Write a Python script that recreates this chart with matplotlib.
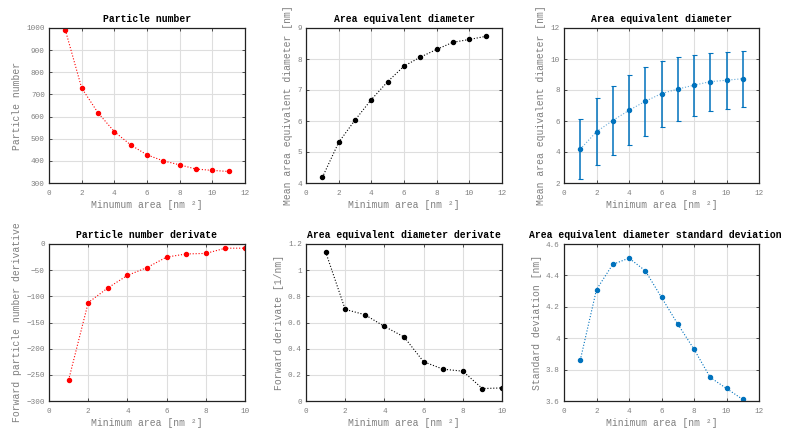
import matplotlib
matplotlib.use("Agg")
import matplotlib.pyplot as plt
import numpy as np

plt.rcParams['font.family'] = ['Liberation Mono', 'DejaVu Sans Mono']

# ---- data ----
min_area = [1, 2, 3, 4, 5, 6, 7, 8, 9, 10, 11]
particle_number = [991, 729, 617, 532, 472, 427, 400, 382, 363, 357, 352]
mean_diameter = [4.18, 5.31, 6.03, 6.69, 7.27, 7.77, 8.06, 8.31, 8.54, 8.63, 8.73]
std_diameter = [3.86, 4.31, 4.47, 4.51, 4.43, 4.26, 4.09, 3.93, 3.75, 3.68, 3.61]
deriv_area = [1, 2, 3, 4, 5, 6, 7, 8, 9, 10]
particle_deriv = [-260, -112, -84, -60, -45, -25, -19, -18, -8, -8]
diameter_deriv = [1.14, 0.70, 0.66, 0.57, 0.49, 0.30, 0.243, 0.228, 0.095, 0.10]

RED = '#ff0000'
BLACK = '#000000'
BLUE = '#0072bd'
GRAY = '#7f7f7f'

fig = plt.figure(figsize=(7.85, 4.30), dpi=100)
W, H = 785, 430

def make_ax(l, r, t, b):
    return fig.add_axes([l / W, 1 - b / H, (r - l) / W, (b - t) / H])

def style(ax, title, xlabel, ylabel, xlim, ylim, xticks, yticks, yticklabels=None,
          title_left=None):
    ax.set_xlim(xlim)
    ax.set_ylim(ylim)
    ax.set_xticks(xticks)
    ax.set_yticks(yticks)
    if yticklabels is not None:
        ax.set_yticklabels(yticklabels)
    ax.grid(True, color='#dedede', linewidth=0.8)
    ax.set_axisbelow(True)
    ax.tick_params(direction='in', top=True, right=True, length=2.5, width=0.6,
                   labelsize=5.5, labelcolor=GRAY, color='#333333')
    ax.tick_params(axis='x', pad=5)
    ax.tick_params(axis='y', pad=3)
    for s in ax.spines.values():
        s.set_linewidth(0.9)
        s.set_color('#222222')
    if title_left is None:
        ax.set_title(title, fontsize=7, fontweight='bold', pad=4)
    else:
        ax.set_title(title, fontsize=7, fontweight='bold', pad=4, loc='left', x=title_left)
    ax.set_xlabel(xlabel, fontsize=7, color=GRAY, labelpad=2)
    ax.set_ylabel(ylabel, fontsize=7, color=GRAY, labelpad=3)

MS = 2.9
LW = 0.8

# Top-left
ax1 = make_ax(49, 245, 28, 183)
ax1.plot(min_area, particle_number, ':', color=RED, marker='o', markersize=MS, linewidth=LW)
style(ax1, 'Particle number', 'Minumum area [nm ²]', 'Particle number',
      (0, 12), (300, 1000), range(0, 13, 2), range(300, 1001, 100))

# Top-middle
ax2 = make_ax(306, 502, 28, 183)
ax2.plot(min_area, mean_diameter, ':', color=BLACK, marker='o', markersize=MS, linewidth=LW)
style(ax2, 'Area equivalent diameter', 'Minimum area [nm ²]',
      'Mean area equivalent diameter [nm]',
      (0, 12), (4, 9), range(0, 13, 2), range(4, 10))

# Top-right
ax3 = make_ax(564, 759, 28, 183)
yerr = np.array(std_diameter) / 2
ax3.plot(min_area, mean_diameter, ':', color=BLUE, alpha=0.6, linewidth=LW)
ax3.errorbar(min_area, mean_diameter, yerr=yerr, fmt='o', color=BLUE, markersize=MS,
             elinewidth=1.1, capsize=1.8, capthick=0.8)
style(ax3, 'Area equivalent diameter', 'Minimum area [nm ²]',
      'Mean area equivalent diameter [nm]',
      (0, 12), (2, 12), range(0, 13, 2), range(2, 13, 2))

# Bottom-left
ax4 = make_ax(49, 245, 244, 401)
ax4.plot(deriv_area, particle_deriv, ':', color=RED, marker='o', markersize=MS, linewidth=LW)
style(ax4, 'Particle number derivate', 'Minimum area [nm ²]',
      'Forward particle number derivative',
      (0, 10), (-300, 0), range(0, 11, 2), range(-300, 1, 50))

# Bottom-middle
ax5 = make_ax(306, 502, 244, 401)
ax5.plot(deriv_area, diameter_deriv, ':', color=BLACK, marker='o', markersize=MS, linewidth=LW)
style(ax5, 'Area equivalent diameter derivate', 'Minimum area [nm ²]',
      'Forward derivate [1/nm]',
      (0, 10), (0, 1.2), range(0, 11, 2), [0, 0.2, 0.4, 0.6, 0.8, 1.0, 1.2],
      ['0', '0.2', '0.4', '0.6', '0.8', '1', '1.2'])

# Bottom-right
ax6 = make_ax(564, 759, 244, 401)
ax6.plot(min_area, std_diameter, ':', color=BLUE, marker='o', markersize=MS, linewidth=LW)
style(ax6, 'Area equivalent diameter standard deviation', 'Minimum area [nm ²]',
      'Standard deviation [nm]',
      (0, 12), (3.6, 4.6), range(0, 13, 2), [3.6, 3.8, 4.0, 4.2, 4.4, 4.6],
      ['3.6', '3.8', '4', '4.2', '4.4', '4.6'], title_left=-0.18)

fig.savefig('out.png', dpi=100)
